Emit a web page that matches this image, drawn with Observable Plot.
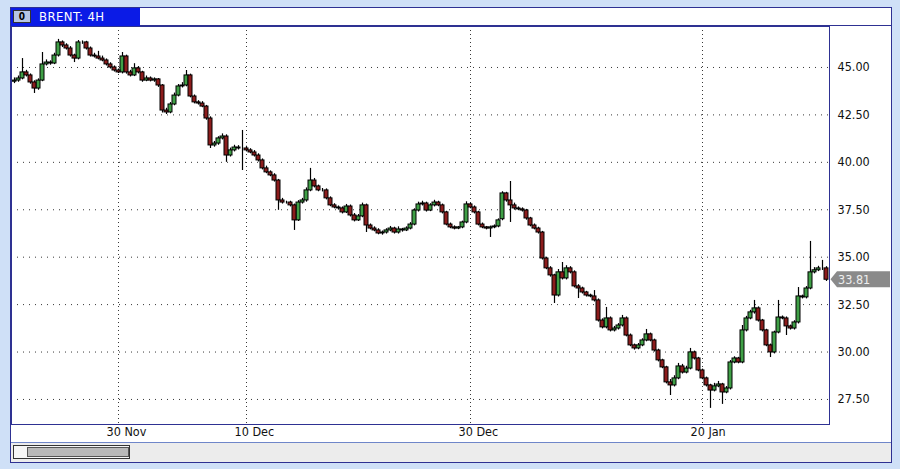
<!DOCTYPE html>
<html><head><meta charset="utf-8">
<script src="https://cdn.jsdelivr.net/npm/d3@7"></script>
<script src="https://cdn.jsdelivr.net/npm/@observablehq/plot@0.6"></script>
<style>
html,body{margin:0;padding:0;width:900px;height:469px;overflow:hidden;background:#cfe0f7;font-family:"DejaVu Sans Condensed","DejaVu Sans",sans-serif;}
#win{position:absolute;left:10px;top:7px;width:882px;height:456px;box-sizing:border-box;background:#fff;border:1px solid #2e3192;}
#tab{position:absolute;left:11px;top:8px;width:129px;height:18px;background:#0b1be6;color:#fff;font-size:13px;line-height:18px;}
#tab span{position:absolute;left:28px;top:0;letter-spacing:0.4px;}
#icon{position:absolute;left:2px;top:2px;width:18px;height:13px;box-sizing:border-box;background:#b7c6e6;border:1px solid #333;color:#000;font-size:10px;font-weight:bold;line-height:11px;text-align:center;}
#hdrline{position:absolute;left:140px;top:25px;width:751px;height:1px;background:#2e3192;}
#chart{position:absolute;left:11px;top:26px;}
#scroll{position:absolute;left:11px;top:442px;width:880px;height:20px;background:#ececec;border-top:1px solid #6f86c9;box-sizing:border-box;}
#thumbo{position:absolute;left:13px;top:445px;width:117px;height:14px;box-sizing:border-box;background:#f6f6f6;border:1px solid #333;}
#thumbi{position:absolute;left:27px;top:447px;width:102px;height:10px;box-sizing:border-box;background:#b9b9b9;border:1px solid #555;}
</style></head>
<body>
<div id="win"></div>
<div id="hdrline"></div>
<div id="tab"><div id="icon">0</div><span>BRENT: 4H</span></div>
<div id="chart"></div>
<div id="scroll"></div>
<div id="thumbo"></div>
<div id="thumbi"></div>
<script>
const opens = [
44.25,44.31,44.42,44.74,44.58,44.21,43.89,44.31,45.16,45.26,
45.21,45.63,46.32,46.16,46.00,45.63,45.47,46.32,46.32,46.00,
45.63,45.58,45.47,45.37,45.16,45.00,44.84,44.74,45.58,44.74,
44.58,44.95,44.74,44.31,44.42,44.31,44.37,44.05,42.73,42.63,
43.05,43.52,44.00,44.05,44.58,43.47,43.16,43.10,42.94,42.31,
40.89,40.99,41.26,41.36,40.36,40.63,40.78,40.73,40.73,40.63,
40.52,40.36,40.10,39.68,39.47,39.31,39.04,37.99,37.88,37.88,
37.73,36.94,37.88,37.99,38.52,39.04,38.73,38.52,38.52,38.10,
37.73,37.62,37.57,37.36,37.67,37.20,36.94,37.15,37.73,36.67,
36.51,36.41,36.25,36.30,36.41,36.51,36.30,36.46,36.41,36.51,
36.72,37.46,37.78,37.83,37.46,37.73,37.88,37.73,37.36,36.72,
36.57,36.51,36.57,36.83,37.78,37.62,37.36,36.72,36.57,36.51,
36.57,36.62,37.00,38.36,37.99,37.73,37.57,37.52,37.46,37.04,
36.67,36.51,36.30,34.93,34.41,34.04,32.98,34.20,33.88,34.41,
34.20,33.46,33.35,33.14,32.98,32.93,32.72,31.66,31.30,31.77,
31.14,31.24,31.40,31.77,30.87,30.35,30.19,30.35,30.61,30.93,
30.61,30.08,29.56,29.19,28.40,28.24,28.61,29.24,28.92,29.13,
29.98,29.66,29.03,28.61,28.24,27.97,28.19,28.29,27.87,28.08,
29.45,29.66,29.45,31.14,31.77,32.09,32.30,31.66,31.14,30.35,
29.98,31.03,31.82,31.77,31.35,31.24,31.56,32.93,32.88,33.35,
34.20,34.31,34.41,34.41];
const highs = [
44.45,44.55,45.47,44.85,44.66,44.30,44.40,45.79,45.40,45.35,
45.75,46.48,46.40,46.25,46.10,45.70,46.42,46.40,46.38,46.08,
45.75,45.85,45.60,45.45,45.25,45.08,44.92,45.79,45.65,44.85,
45.20,45.05,44.80,44.55,44.50,44.45,44.42,44.10,42.85,43.15,
43.65,44.10,44.20,44.84,44.65,43.55,43.25,43.20,43.00,42.40,
41.10,41.35,41.50,41.45,40.75,40.90,40.88,41.68,40.85,40.72,
40.62,40.45,40.18,39.80,39.55,39.40,39.10,38.10,37.95,37.95,
37.80,37.98,38.10,38.65,39.68,39.15,38.80,38.62,38.60,38.18,
37.82,37.70,37.65,37.78,37.75,37.30,37.25,37.85,37.80,36.75,
36.60,36.50,36.38,36.50,36.62,36.58,36.60,36.52,36.60,36.82,
37.55,37.90,37.95,37.90,37.82,38.00,37.95,37.80,37.42,36.80,
36.65,36.62,36.90,37.92,37.85,37.70,37.42,36.80,36.62,36.64,
36.70,37.02,38.45,38.42,38.99,37.85,37.65,37.60,37.52,37.10,
36.75,36.58,36.36,35.00,34.50,34.10,34.35,34.72,34.55,34.50,
34.28,33.55,33.42,33.20,33.05,33.24,32.80,31.75,32.35,31.85,
31.35,31.50,31.93,31.85,30.95,30.42,30.45,30.70,31.19,31.00,
30.68,30.15,29.62,29.25,28.55,28.75,29.40,29.35,29.25,30.19,
30.05,29.72,29.10,28.68,28.30,28.35,28.45,28.35,28.18,29.55,
29.75,29.72,31.40,31.88,32.20,32.72,32.38,31.72,31.20,30.42,
31.10,32.72,31.90,31.85,31.42,31.65,33.40,33.00,33.45,35.83,
34.45,34.52,34.83,34.50];
const lows = [
44.15,44.22,44.35,44.50,44.12,43.63,43.80,44.25,45.08,45.12,
45.15,45.55,46.05,45.92,45.55,45.26,45.40,46.22,45.92,45.55,
45.50,45.40,45.30,45.08,44.92,44.76,44.68,44.66,44.65,44.50,
44.52,44.66,44.22,44.25,44.24,44.22,43.95,42.60,42.52,42.56,
42.98,43.45,43.92,43.98,43.40,43.08,43.02,42.88,42.22,40.73,
40.80,40.90,41.18,40.00,40.28,40.55,40.65,39.57,40.55,40.45,
40.28,40.02,39.60,39.40,39.24,38.96,37.47,37.80,37.80,37.65,
36.41,36.88,37.80,37.90,38.45,38.65,38.45,38.44,38.02,37.66,
37.55,37.48,37.28,37.30,37.12,36.86,36.88,37.08,36.30,36.44,
36.34,36.18,36.16,36.22,36.34,36.22,36.22,36.32,36.35,36.44,
36.65,37.38,37.70,37.38,37.40,37.65,37.66,37.28,36.65,36.50,
36.44,36.45,36.50,36.76,37.55,37.28,36.65,36.50,36.44,36.04,
36.50,36.55,36.92,37.90,36.83,37.48,37.45,37.38,36.95,36.60,
36.44,36.22,34.85,34.34,33.95,32.56,32.90,33.80,33.80,34.12,
33.38,32.82,33.06,32.90,32.86,32.64,31.58,31.22,31.22,31.06,
31.06,31.16,31.32,30.80,30.28,30.10,30.12,30.28,30.54,30.54,
30.00,29.48,29.12,28.32,27.71,28.16,28.54,28.84,28.85,29.06,
29.58,28.96,28.54,28.16,27.03,27.90,28.12,27.24,27.80,28.00,
29.38,29.38,29.38,31.06,31.70,32.00,31.58,31.06,30.28,29.71,
29.90,30.96,31.70,30.87,31.16,31.16,31.48,32.80,32.80,33.28,
34.12,34.24,34.30,33.72];
const closes = [
44.31,44.42,44.74,44.58,44.21,43.89,44.31,45.16,45.26,45.21,
45.63,46.32,46.16,46.00,45.63,45.47,46.32,46.32,46.00,45.63,
45.58,45.47,45.37,45.16,45.00,44.84,44.74,45.58,44.74,44.58,
44.95,44.74,44.31,44.42,44.31,44.37,44.05,42.73,42.63,43.05,
43.52,44.00,44.05,44.58,43.47,43.16,43.10,42.94,42.31,40.89,
40.99,41.26,41.36,40.36,40.63,40.78,40.73,40.73,40.63,40.52,
40.36,40.10,39.68,39.47,39.31,39.04,37.99,37.88,37.88,37.73,
36.94,37.88,37.99,38.52,39.04,38.73,38.52,38.52,38.10,37.73,
37.62,37.57,37.36,37.67,37.20,36.94,37.15,37.73,36.67,36.51,
36.41,36.25,36.30,36.41,36.51,36.30,36.46,36.41,36.51,36.72,
37.46,37.78,37.83,37.46,37.73,37.88,37.73,37.36,36.72,36.57,
36.51,36.57,36.83,37.78,37.62,37.36,36.72,36.57,36.51,36.57,
36.62,36.94,38.36,37.99,37.73,37.57,37.52,37.46,37.04,36.67,
36.51,36.30,34.93,34.41,34.04,32.98,34.20,33.88,34.41,34.20,
33.46,33.35,33.14,32.98,32.93,32.72,31.66,31.30,31.77,31.14,
31.24,31.40,31.77,30.87,30.35,30.19,30.35,30.61,30.93,30.61,
30.08,29.56,29.19,28.40,28.24,28.61,29.24,28.92,29.13,29.98,
29.66,29.03,28.61,28.24,27.97,28.19,28.29,27.87,28.08,29.45,
29.66,29.45,31.14,31.77,32.09,32.30,31.66,31.14,30.35,29.98,
31.03,31.82,31.77,31.35,31.24,31.56,32.93,32.88,33.35,34.20,
34.31,34.41,34.41,33.81];
const yTicks = [27.5, 30, 32.5, 35, 37.5, 40, 42.5, 45];
const dateTickIdx = [26, 58, 114, 172];
const dateTickLabels = ["30 Nov", "10 Dec", "30 Dec", "20 Jan"];

const n = closes.length;
const data = closes.map((c, i) => ({i, o: opens[i], h: highs[i], l: lows[i], c}));
const FONT = '"DejaVu Sans Condensed","DejaVu Sans",sans-serif';

const chart = Plot.plot({
  width: 881, height: 416,
  marginLeft: 0, marginRight: 63, marginTop: 0, marginBottom: 18,
  x: {type: "linear", domain: [-0.75, n - 0.25], axis: null, label: null},
  y: {domain: [26.18, 47.16], axis: null, label: null},
  style: {fontFamily: FONT, fontSize: "12.5px", background: "transparent", color: "#000", overflow: "visible"},
  marks: [
    Plot.gridY(yTicks, {stroke: "#222", strokeOpacity: 0.9, strokeDasharray: "1,5"}),
    Plot.gridX(dateTickIdx, {stroke: "#222", strokeOpacity: 0.9, strokeDasharray: "1,3"}),
    Plot.ruleX(data, {x: "i", y1: "l", y2: "h", stroke: "#000", strokeWidth: 1.2}),
    Plot.rect(data, {filter: d => d.c >= d.o, x1: d => d.i - 0.5, x2: d => d.i + 0.5, y1: "o", y2: "c", fill: "#3f9f46", stroke: "#000", strokeWidth: 1}),
    Plot.rect(data, {filter: d => d.c < d.o, x1: d => d.i - 0.5, x2: d => d.i + 0.5, y1: "o", y2: "c", fill: "#8c1c1c", stroke: "#000", strokeWidth: 1}),
    Plot.axisY(yTicks, {anchor: "right", label: null, tickSize: 0, tickPadding: 8, textAnchor: "start", tickFormat: d => d.toFixed(2), fill: "#111"}),
    Plot.axisX(dateTickIdx, {anchor: "bottom", label: null, tickSize: 0, tickPadding: 3, textAnchor: "start", dx: -12, tickFormat: (d, k) => dateTickLabels[k], fill: "#111"}),
    Plot.frame({stroke: "#2e3192"})
  ]
});
document.getElementById("chart").appendChild(chart);

// last-price marker on the right scale
const last = closes[n - 1];
const yy = chart.scale("y").apply(last);
const svg = d3.select(chart);
const g = svg.append("g").attr("text-anchor", "start");
g.append("path")
  .attr("d", `M819.5,${yy} L826,${yy - 8} L879,${yy - 8} L879,${yy + 8} L826,${yy + 8} Z`)
  .attr("fill", "#8a8a8a");
g.append("text")
  .attr("x", 827).attr("y", yy).attr("dy", "0.35em")
  .attr("text-anchor", "start")
  .attr("fill", "#eeeeee")
  .attr("font-family", FONT).attr("font-size", "12.5px")
  .text(last.toFixed(2));
</script>
</body></html>
